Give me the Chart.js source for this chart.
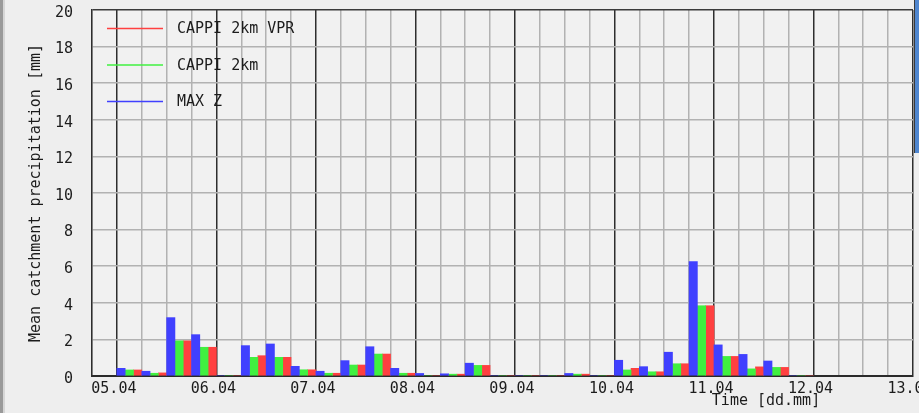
<!DOCTYPE html>
<html>
<head>
<meta charset="utf-8">
<script src="https://cdn.jsdelivr.net/npm/chart.js@4/dist/chart.umd.min.js"></script>
<style>
  html, body { margin: 0; padding: 0; background: #eeeeee; }
  #wrap { width: 919px; height: 413px; position: relative; }
</style>
</head>
<body>
<div id="wrap"><canvas id="chart" width="919" height="413"></canvas></div>
<script>
// Day labels on the time axis (one per day boundary)
const days = ['05.04', '06.04', '07.04', '08.04', '09.04', '10.04', '11.04', '12.04', '13.04'];

// 6-hour accumulations [mm], slots from 05.04 00:00 to 11.04 24:00
const maxZ = [
  0.42, 0.26, 3.19, 2.26,
  0.00, 1.66, 1.75, 0.53,
  0.26, 0.84, 1.60, 0.42,
  0.14, 0.12, 0.70, 0.00,
  0.00, 0.00, 0.14, 0.00,
  0.86, 0.51, 1.30, 6.25,
  1.70, 1.18, 0.82, 0.00
];
const cappi2km = [
  0.33, 0.15, 1.92, 1.57,
  0.00, 1.02, 1.02, 0.34,
  0.15, 0.60, 1.20, 0.15,
  0.00, 0.10, 0.58, 0.00,
  0.00, 0.00, 0.10, 0.00,
  0.33, 0.23, 0.67, 3.84,
  1.07, 0.39, 0.47, 0.00
];
const cappi2kmVpr = [
  0.33, 0.17, 1.92, 1.57,
  0.00, 1.11, 1.02, 0.34,
  0.15, 0.60, 1.20, 0.15,
  0.00, 0.10, 0.58, 0.00,
  0.00, 0.00, 0.10, 0.00,
  0.42, 0.23, 0.67, 3.84,
  1.07, 0.50, 0.47, 0.00
];

const SLOT_HOURS = 6;
const FONT = 'DejaVu Sans Mono';
const TEXT = '#1c1c1c';

// each slot is placed at its centre, in hours after 05.04 00:00
const toPoints = arr => arr.map((v, i) => ({ x: i * SLOT_HOURS + SLOT_HOURS / 2, y: v }));

const series = [
  { label: 'MAX Z',         values: maxZ,        color: '#4040ff' },
  { label: 'CAPPI 2km',     values: cappi2km,    color: '#40f040' },
  { label: 'CAPPI 2km VPR', values: cappi2kmVpr, color: '#ff4040' }
];

// keep tick labels from pushing the plot area inwards
const noLabelPadding = s => {
  s.paddingTop = 0; s.paddingBottom = 0; s.paddingLeft = 0; s.paddingRight = 0;
};

// plot background, in-plot legend, x axis caption and frame decorations
const decorations = {
  id: 'decorations',
  beforeDraw(chart) {
    const { ctx, chartArea: a } = chart;
    ctx.save();
    ctx.fillStyle = '#f1f1f1';
    ctx.fillRect(a.left, a.top, a.right - a.left, a.bottom - a.top);
    ctx.restore();
  },
  afterDraw(chart) {
    const { ctx, chartArea: a, width, height } = chart;
    ctx.save();
    // legend, listed top to bottom in reverse dataset order
    const ds = chart.data.datasets.slice().reverse();
    ctx.font = '15px "' + FONT + '"';
    ctx.textBaseline = 'middle';
    ctx.textAlign = 'left';
    ds.forEach((d, k) => {
      const y = a.top + 18.5 + k * 36.5;
      ctx.strokeStyle = d.backgroundColor;
      ctx.lineWidth = 1.5;
      ctx.beginPath();
      ctx.moveTo(a.left + 15, y);
      ctx.lineTo(a.left + 71, y);
      ctx.stroke();
      ctx.fillStyle = TEXT;
      ctx.fillText(d.label, a.left + 85, y + 1);
    });
    // x axis caption
    ctx.textAlign = 'center';
    ctx.fillText('Time [dd.mm]', a.right - 147, height - 12);
    // window edges
    ctx.fillStyle = '#9a9a9a';
    ctx.fillRect(0, 0, 3, height);
    ctx.fillStyle = '#d6d6d6';
    ctx.fillRect(3, 0, 2, height);
    ctx.fillStyle = '#3a3a3a';
    ctx.fillRect(width - 5, 0, 1, 153);
    ctx.fillStyle = '#4f86cf';
    ctx.fillRect(width - 4, 0, 4, 153);
    ctx.restore();
  }
};

new Chart(document.getElementById('chart'), {
  type: 'bar',
  data: {
    datasets: series.map(s => ({
      label: s.label,
      data: toPoints(s.values),
      backgroundColor: s.color,
      borderWidth: 0,
      categoryPercentage: 1,
      barPercentage: 1
    }))
  },
  options: {
    responsive: false,
    animation: false,
    layout: { padding: { top: 10, right: 6, left: 0, bottom: 0 } },
    plugins: {
      legend: { display: false },
      tooltip: { enabled: false }
    },
    scales: {
      x: {
        type: 'linear',
        offset: false,
        min: -SLOT_HOURS,
        max: (days.length - 1) * 24,
        afterFit: s => { s.height = 37; noLabelPadding(s); },
        ticks: {
          stepSize: SLOT_HOURS,
          autoSkip: false,
          maxRotation: 0,
          padding: 4,
          labelOffset: -3,
          color: TEXT,
          font: { family: FONT, size: 15 },
          callback: v => (v >= 0 && v % 24 === 0) ? days[v / 24] : ''
        },
        grid: {
          offset: false,
          drawTicks: false,
          color: c => (c.tick && c.tick.value % 24 === 0) ? '#2e2e2e' : '#b2b2b2',
          lineWidth: 1.5
        },
        border: { color: '#2a2a2a', width: 2 }
      },
      y: {
        min: 0,
        max: 20,
        afterFit: s => { s.width = 92; noLabelPadding(s); },
        ticks: {
          stepSize: 2,
          padding: 19,
          labelOffset: 3,
          color: TEXT,
          font: { family: FONT, size: 15 }
        },
        grid: {
          drawTicks: false,
          color: c => (c.tick && c.tick.value === 20) ? '#3a3a3a' : '#b2b2b2',
          lineWidth: 1.5
        },
        border: { color: '#2e2e2e', width: 1.5 },
        title: {
          display: true,
          text: 'Mean catchment precipitation [mm]',
          color: TEXT,
          font: { family: FONT, size: 15 },
          padding: { top: 27, bottom: 0 }
        }
      }
    }
  },
  plugins: [decorations]
});
</script>
</body>
</html>
